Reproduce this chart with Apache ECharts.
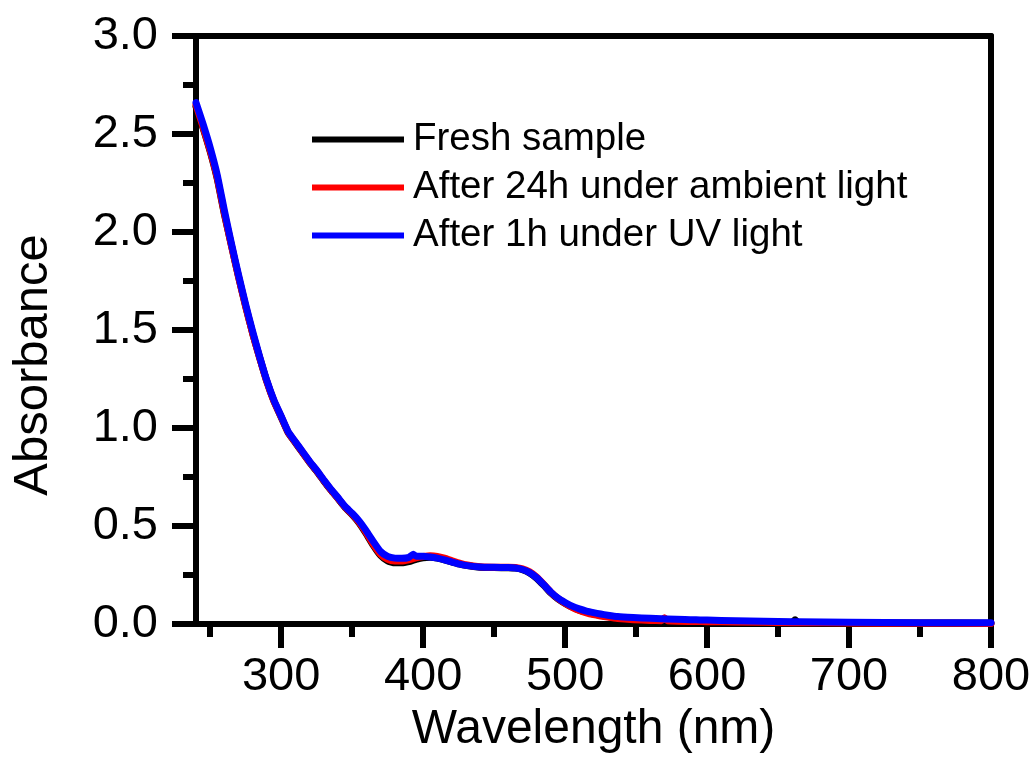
<!DOCTYPE html>
<html>
<head>
<meta charset="utf-8">
<title>UV-Vis absorbance</title>
<script src="https://cdn.jsdelivr.net/npm/echarts@6/dist/echarts.min.js"></script>
<style>
  html, body { margin: 0; padding: 0; background: #ffffff; }
  #chart { width: 1033px; height: 757px; }
</style>
</head>
<body>
<div id="chart"></div>
<script>
// Wavelength grid (nm), shared by all three spectra
const wavelength = [240,245,250,255,260,265,270,275,280,285,290,295,300,305,310,315,320,325,330,335,340,345,350,355,360,365,370,375,380,385,390,393,395,400,405,410,415,420,425,430,440,450,460,465,470,475,480,485,490,495,500,505,510,515,520,525,530,537,548,560,568,570,572,600,620,660,662,664,700,750,800];

// Absorbance of the fresh sample
const freshSample = [2.64,2.53,2.41,2.27,2.09,1.93,1.77,1.62,1.48,1.355,1.235,1.135,1.055,0.975,0.925,0.875,0.825,0.78,0.73,0.683,0.64,0.595,0.558,0.515,0.46,0.40,0.35,0.322,0.312,0.312,0.318,0.325,0.330,0.338,0.340,0.336,0.327,0.317,0.307,0.299,0.290,0.288,0.287,0.285,0.277,0.26,0.233,0.197,0.158,0.128,0.105,0.086,0.071,0.06,0.051,0.044,0.038,0.031,0.025,0.021,0.019,0.019,0.019,0.014,0.011,0.008,0.022,0.008,0.006,0.005,0.004];

// Absorbance after 24 h under ambient light
const ambient24h = [2.65,2.535,2.415,2.275,2.095,1.93,1.77,1.62,1.48,1.355,1.235,1.135,1.057,0.977,0.927,0.877,0.827,0.782,0.732,0.685,0.642,0.597,0.56,0.518,0.465,0.405,0.356,0.33,0.322,0.322,0.328,0.334,0.338,0.344,0.348,0.345,0.336,0.324,0.312,0.302,0.292,0.29,0.29,0.289,0.282,0.266,0.239,0.202,0.162,0.13,0.106,0.085,0.069,0.057,0.048,0.041,0.035,0.028,0.022,0.018,0.017,0.032,0.017,0.012,0.01,0.007,0.007,0.007,0.005,0.004,0.003];

// Absorbance after 1 h under UV light
const uv1h = [2.66,2.55,2.43,2.29,2.11,1.94,1.78,1.63,1.49,1.36,1.24,1.14,1.06,0.98,0.93,0.88,0.83,0.785,0.735,0.688,0.645,0.60,0.565,0.525,0.475,0.42,0.37,0.345,0.336,0.335,0.340,0.356,0.346,0.346,0.342,0.336,0.327,0.317,0.307,0.299,0.291,0.289,0.288,0.286,0.278,0.262,0.236,0.200,0.162,0.132,0.110,0.091,0.077,0.066,0.058,0.051,0.045,0.038,0.033,0.029,0.027,0.026,0.026,0.020,0.017,0.012,0.012,0.012,0.009,0.007,0.006];

const seriesNames = ['Fresh sample', 'After 24h under ambient light', 'After 1h under UV light'];
const seriesColors = ['#000000', '#ff0000', '#0000ff'];

// Axis ticks
const xMajorTicks = [300, 400, 500, 600, 700, 800];
const xMinorTicks = [250, 350, 450, 550, 650, 750];
const xRange = [240, 800];
const yRange = [0, 3];
const yStep = 0.5;

const FONT = '"Liberation Sans", Arial, Helvetica, sans-serif';
const AXIS_W = 6;

function pairs(values) {
  return wavelength.map((w, i) => [w, values[i]]);
}

const chart = echarts.init(document.getElementById('chart'), null, { renderer: 'canvas' });

const option = {
  backgroundColor: '#ffffff',
  animation: false,
  grid: { left: 196, right: 42, top: 36, bottom: 133, containLabel: false, outerBoundsMode: 'none' },
  legend: {
    orient: 'vertical',
    left: 307,
    top: 115,
    icon: 'rect',
    itemWidth: 92,
    itemHeight: 6,
    itemGap: 9,
    selectedMode: false,
    data: seriesNames,
    textStyle: {
      fontFamily: FONT,
      fontSize: 38.5,
      lineHeight: 38,
      color: '#000000',
      padding: [0, 0, 0, 4]
    }
  },
  xAxis: [
    {
      type: 'value',
      min: xRange[0],
      max: xRange[1],
      position: 'bottom',
      name: 'Wavelength (nm)',
      nameLocation: 'middle',
      nameGap: 78,
      nameTextStyle: { fontFamily: FONT, fontSize: 48, color: '#000000' },
      axisLine: { show: true, onZero: false, lineStyle: { color: '#000000', width: AXIS_W } },
      axisTick: { show: true, inside: false, length: 24, customValues: xMajorTicks,
                  lineStyle: { color: '#000000', width: AXIS_W } },
      axisLabel: { show: true, margin: 30, customValues: xMajorTicks,
                   fontFamily: FONT, fontSize: 47, color: '#000000' },
      splitLine: { show: false }
    },
    {
      // minor ticks along the bottom edge
      type: 'value',
      min: xRange[0],
      max: xRange[1],
      position: 'bottom',
      offset: 0,
      axisLine: { show: false },
      axisTick: { show: true, inside: false, length: 13, customValues: xMinorTicks,
                  lineStyle: { color: '#000000', width: AXIS_W } },
      axisLabel: { show: false },
      splitLine: { show: false }
    },
    {
      // top frame edge
      type: 'value',
      min: xRange[0],
      max: xRange[1],
      position: 'top',
      axisLine: { show: true, onZero: false, lineStyle: { color: '#000000', width: AXIS_W } },
      axisTick: { show: false },
      axisLabel: { show: false },
      splitLine: { show: false }
    }
  ],
  yAxis: [
    {
      type: 'value',
      min: yRange[0],
      max: yRange[1],
      interval: yStep,
      position: 'left',
      axisLine: { show: true, onZero: false, lineStyle: { color: '#000000', width: AXIS_W } },
      axisTick: { show: true, inside: false, length: 24, lineStyle: { color: '#000000', width: AXIS_W } },
      minorTick: { show: true, splitNumber: 2, length: 13, lineStyle: { color: '#000000', width: AXIS_W } },
      axisLabel: { show: true, margin: 38, fontFamily: FONT, fontSize: 47, color: '#000000',
                   formatter: v => v.toFixed(1) },
      splitLine: { show: false },
      minorSplitLine: { show: false }
    },
    {
      // right frame edge
      type: 'value',
      min: yRange[0],
      max: yRange[1],
      interval: yStep,
      position: 'right',
      axisLine: { show: true, onZero: false, lineStyle: { color: '#000000', width: AXIS_W } },
      axisTick: { show: false },
      axisLabel: { show: false },
      splitLine: { show: false }
    }
  ],
  graphic: [
    {
      type: 'text',
      x: 33,
      y: 365,
      rotation: Math.PI / 2,
      style: {
        text: 'Absorbance',
        fontFamily: FONT,
        fontSize: 49,
        fill: '#000000',
        align: 'center',
        verticalAlign: 'middle'
      }
    }
  ],
  series: [freshSample, ambient24h, uv1h].map((values, i) => ({
    name: seriesNames[i],
    type: 'line',
    xAxisIndex: 0,
    yAxisIndex: 0,
    data: pairs(values),
    showSymbol: false,
    symbol: 'none',
    smooth: 0.15,
    clip: true,
    color: seriesColors[i],
    lineStyle: { color: seriesColors[i], width: 7, join: 'round', cap: 'round' },
    emphasis: { disabled: true },
    z: 2 + i
  }))
};

chart.setOption(option);
</script>
</body>
</html>
